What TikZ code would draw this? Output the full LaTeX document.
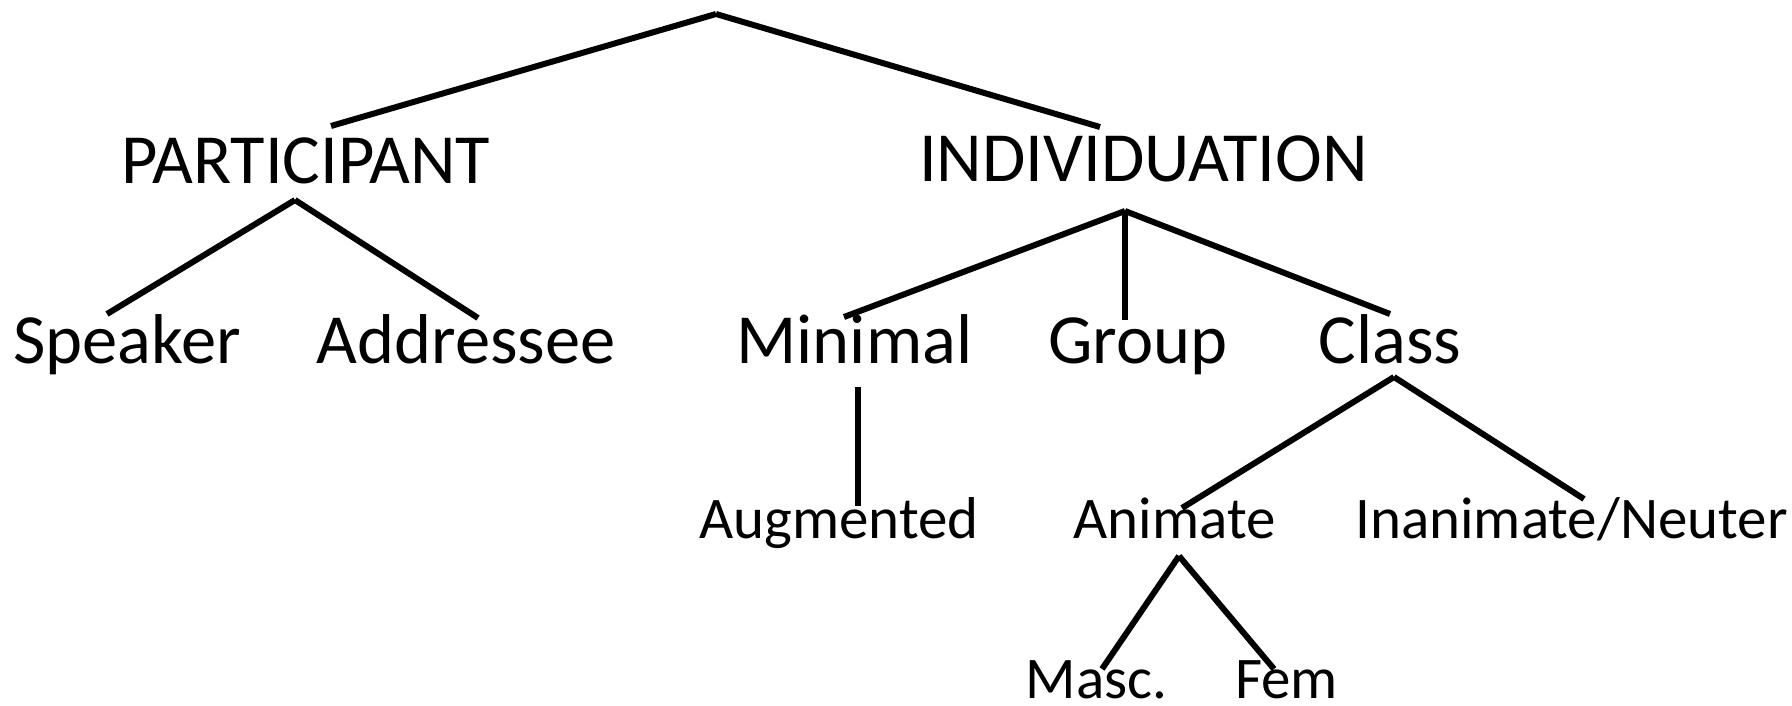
\documentclass[tikz,border=0pt]{standalone}
\usepackage{fontspec}
\setmainfont{Carlito}
\begin{document}
\begin{tikzpicture}[x=1pt,y=-1pt,
  big/.style={inner sep=0pt,anchor=base,font=\fontsize{70.5}{80}\selectfont},
  small/.style={inner sep=0pt,anchor=base,font=\fontsize{59}{68}\selectfont},
  branch/.style={line width=6pt,line cap=butt}]
\useasboundingbox[fill=white] (0,0) rectangle (1792,706);
% text nodes
\node[big] (part) at (305.5,183) {PARTICIPANT};
\node[big] (ind) at (1143.5,182) {INDIVIDUATION};
\node[big] (spk) at (127,363) {Speaker};
\node[big] (adr) at (466,363) {Addressee};
\node[big] (min) at (854.5,363) {Minimal};
\node[big] (grp) at (1138,363) {Group};
\node[big] (cls) at (1390,363) {Class};
\node[small] (aug) at (839,538) {Augmented};
\node[small] (ani) at (1174.5,538) {Animate};
\node[small] (ina) at (1571.5,538) {Inanimate/Neuter};
\node[small] (msc) at (1096.5,698) {Masc.};
\node[small] (fem) at (1286.5,698) {Fem};
% branch points
\coordinate (root) at (716,14);
\coordinate (root-l) at (331,126);
\coordinate (root-r) at (1100,127);
\coordinate (part-ap) at (295,200);
\coordinate (spk-top) at (107,314);
\coordinate (adr-top) at (478,318);
\coordinate (ind-ap) at (1125,211);
\coordinate (min-top) at (844,317);
\coordinate (grp-top) at (1125,320);
\coordinate (cls-top) at (1390,314);
\coordinate (min-bot) at (857.5,387);
\coordinate (aug-top) at (857.5,506);
\coordinate (cls-ap) at (1394,377);
\coordinate (ani-top) at (1182,508);
\coordinate (ina-top) at (1584,499);
\coordinate (ani-ap) at (1179,556);
\coordinate (msc-top) at (1102,669);
\coordinate (fem-top) at (1274,669);
% connectors
\draw[branch] (root) -- (root-l);
\draw[branch] (root) -- (root-r);
\draw[branch] (part-ap) -- (spk-top);
\draw[branch] (part-ap) -- (adr-top);
\draw[branch] (ind-ap) -- (min-top);
\draw[branch] (ind-ap) -- (grp-top);
\draw[branch] (ind-ap) -- (cls-top);
\draw[branch] (min-bot) -- (aug-top);
\draw[branch] (cls-ap) -- (ani-top);
\draw[branch] (cls-ap) -- (ina-top);
\draw[branch] (ani-ap) -- (msc-top);
\draw[branch] (ani-ap) -- (fem-top);
\end{tikzpicture}
\end{document}
